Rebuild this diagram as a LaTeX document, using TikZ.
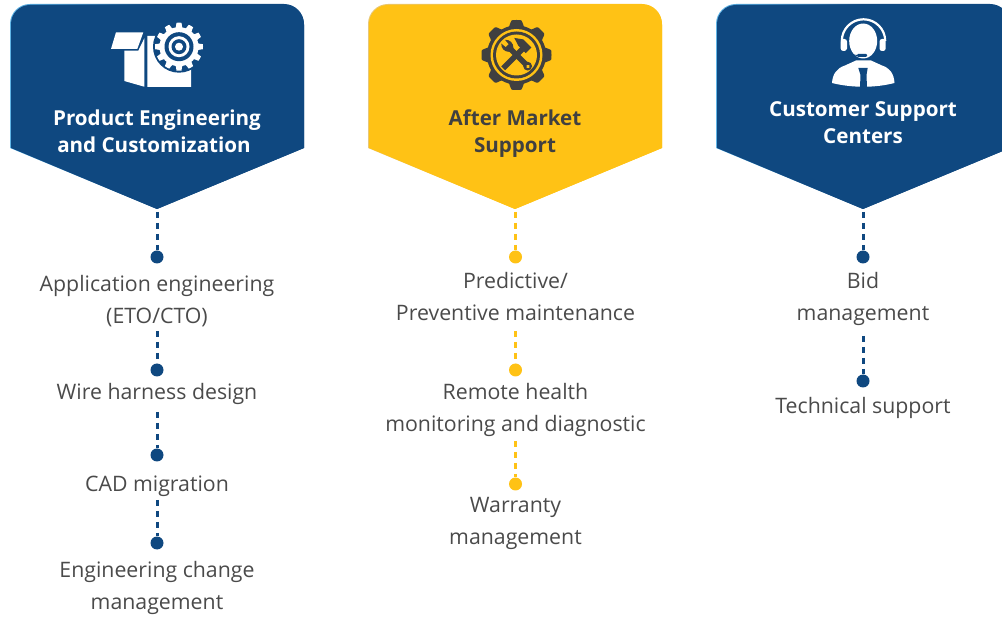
\documentclass[tikz,border=0pt]{standalone}
\usepackage{fontspec}
\setmainfont{Open Sans}
\definecolor{navy}{HTML}{0F4880}
\definecolor{amber}{HTML}{FFC215}
\definecolor{bodytext}{HTML}{4A4A4A}
\definecolor{darkicon}{HTML}{404040}
\definecolor{skyedge}{HTML}{5FB4E6}
\definecolor{goldedge}{HTML}{E8C878}
\newcommand\headerpath[1]{(#1-147,148) -- (#1-147,24) arc[start angle=180,end angle=270,radius=20] -- (#1+127,4) arc[start angle=270,end angle=360,radius=20] -- (#1+147,148) -- (#1,209) -- cycle}
\newcommand\headerfill[1]{(#1-146,148) -- (#1-146,24) arc[start angle=180,end angle=270,radius=19] -- (#1+127,5) arc[start angle=270,end angle=360,radius=20] -- (#1+147,148) -- (#1,209) -- cycle}
\newcommand\gearplot[6]{plot[smooth,samples=181,domain=0:360,variable=\t] ({#1+(#3+(#4-#3)*max(0,min(1,0.5+#6*cos(#5*\t))))*sin(\t)},{#2-(#3+(#4-#3)*max(0,min(1,0.5+#6*cos(#5*\t))))*cos(\t)}) -- cycle}
\tikzset{
  bodylabel/.style={font=\fontsize{21.3}{32}\selectfont,text=bodytext,align=center,inner sep=0pt},
  headlabel/.style={font=\bfseries\fontsize{20.6}{27}\selectfont,align=center,inner sep=0pt},
  navydot/.style={circle,fill=navy,minimum size=13pt,inner sep=0pt},
  amberdot/.style={circle,fill=amber,minimum size=13pt,inner sep=0pt},
  navylink/.style={draw=navy,line width=3pt,dash pattern=on 6pt off 5pt},
  amberlink/.style={draw=amber,line width=3pt,dash pattern=on 6pt off 5pt},
}
\begin{document}
\begin{tikzpicture}[x=1pt,y=-1pt]
\useasboundingbox (0,0) rectangle (1002,617);
\clip (0,0) rectangle (1002,617);
% headers
\shade[left color=skyedge,right color=navy,middle color=navy] \headerpath{157};
\fill[navy] \headerfill{157};
\shade[left color=goldedge,right color=amber,middle color=amber] \headerpath{515};
\fill[amber] \headerfill{515};
\shade[left color=skyedge,right color=navy,middle color=navy] \headerpath{863};
\fill[navy] \headerfill{863};
% icon 1
\fill[white] (116,32.3) -- (143.3,32.3) -- (137.3,49) -- (111,49) -- cycle;
\fill[white] (124.3,50.7) -- (138.3,50.7) -- (144.3,38.3) -- (144.3,86.7) -- (124.3,81) -- cycle;
\fill[white] (147.3,36) -- (165,36) -- (191,60) -- (191,87) -- (147.3,87) -- cycle;
\fill[navy] (179,46.7) circle[radius=26];
\fill[white] \gearplot{179}{46.7}{19.5}{24}{12}{1.6};
\fill[navy] (179,46.7) circle[radius=14.5];
\fill[white] (179,46.7) circle[radius=10.5];
\fill[navy] (179,46.7) circle[radius=7.5];
\fill[white] (179,46.7) circle[radius=4];
% icon 2
\fill[darkicon] \gearplot{516.5}{55}{29.5}{35}{8}{1.2};
\fill[amber] (516.5,55) circle[radius=26];
\fill[darkicon] (516.5,55) circle[radius=23.5];
\fill[amber] (516.5,55) circle[radius=20.5];
\begin{scope}[shift={(516.5,55)},scale=1.05]
  \fill[darkicon,rotate=-45] (-2.6,-9) -- (2.6,-9) -- (2.6,18) -- (-2.6,18) -- cycle;
  \fill[darkicon,rotate=-45] (-3,-15) -- (5,-15) -- (5,-7.5) -- (-5,-7.5) -- (-13,-10) -- (-6,-15) -- cycle;
  \fill[darkicon,rotate=45] (-2.6,-8) -- (2.6,-8) -- (2.6,14) -- (-2.6,14) -- cycle;
  \fill[darkicon,rotate=45] (0,15) circle[radius=4.2];
  \fill[amber,rotate=45] (0,15.5) circle[radius=1.8];
  \fill[darkicon,rotate=45] (-2.8,-7) .. controls (-6,-10) and (-6,-15) .. (-2.5,-18) -- (-2,-12.5) -- (2,-12.5) -- (2.5,-18) .. controls (6,-15) and (6,-10) .. (2.8,-7) -- cycle;
\end{scope}
% icon 3
\draw[white,line width=2.2pt] (841.8,41) arc[start angle=180,end angle=360,radius=21.7];
\fill[white,rounded corners=2.5pt] (840.7,39) rectangle (847,51);
\fill[white,rounded corners=2.5pt] (879.5,39) rectangle (885.7,51);
\fill[white] (863.2,41) ellipse[x radius=14,y radius=17.5];
\draw[navy,line width=0.9pt] (846,50) .. controls (849,53.5) and (853,55.5) .. (858,55.5);
\fill[navy,rounded corners=1.2pt] (857,53.8) rectangle (867,57);
\fill[white] (832,83) .. controls (832.5,74) and (837,68) .. (845,65.5) -- (856,60.5) -- (871,60.5) -- (882,65.5) .. controls (890,68) and (894,74) .. (894.5,83) .. controls (875,88) and (852,88) .. (832,83) -- cycle;
\fill[navy] (858.3,68) -- (867.7,68) -- (866.5,75) -- (867,87.5) -- (860,87.5) -- (860.5,75) -- cycle;
% column A
\coordinate (tipA) at (157,212);
\node[navydot] (a1) at (157,257) {};
\node[bodylabel] (ta1) at (157,301.5) {\strut Application engineering\\\strut (ETO/CTO)};
\coordinate (sa2) at (157,331);
\node[navydot] (a2) at (157,370) {};
\node[bodylabel] (ta2) at (157,393.5) {\strut Wire harness design};
\coordinate (sa3) at (157,412);
\node[navydot] (a3) at (157,455) {};
\node[bodylabel] (ta3) at (157,485.5) {\strut CAD migration};
\coordinate (sa4) at (157,500);
\node[navydot] (a4) at (157,543) {};
\node[bodylabel] (ta4) at (157,587.5) {\strut Engineering change\\\strut management};
\draw[navylink] (tipA) -- (a1);
\draw[navylink] (sa2) -- (a2);
\draw[navylink] (sa3) -- (a3);
\draw[navylink] (sa4) -- (a4);
% column B
\coordinate (tipB) at (515.5,212);
\node[amberdot] (b1) at (515.5,257) {};
\node[bodylabel] (tb1) at (515.5,298.5) {\strut Predictive/\\\strut Preventive maintenance};
\coordinate (sb2) at (515.5,331);
\node[amberdot] (b2) at (515.5,370) {};
\node[bodylabel] (tb2) at (515.5,409.5) {\strut Remote health\\\strut monitoring and diagnostic};
\coordinate (sb3) at (515.5,441);
\node[amberdot] (b3) at (515.5,484) {};
\node[bodylabel] (tb3) at (515.5,522.5) {\strut Warranty\\\strut management};
\draw[amberlink] (tipB) -- (b1);
\draw[amberlink] (sb2) -- (b2);
\draw[amberlink] (sb3) -- (b3);
% column C
\coordinate (tipC) at (863,212);
\node[navydot] (c1) at (863,257) {};
\node[bodylabel] (tc1) at (863,298.5) {\strut Bid\\\strut management};
\coordinate (sc2) at (863,336);
\node[navydot] (c2) at (863,381) {};
\node[bodylabel] (tc2) at (863,407) {\strut Technical support};
\draw[navylink] (tipC) -- (c1);
\draw[navylink] (sc2) -- (c2);
% headings
\node[headlabel,text=white] (ha) at (157,133.5) {\strut Product Engineering\\\strut and Customization\kern6pt};
\node[headlabel,text=darkicon] (hb) at (515,133.5) {\strut After Market\\\strut Support};
\node[headlabel,text=white] (hc) at (863,124.5) {\strut Customer Support\\\strut Centers};
\end{tikzpicture}
\end{document}
